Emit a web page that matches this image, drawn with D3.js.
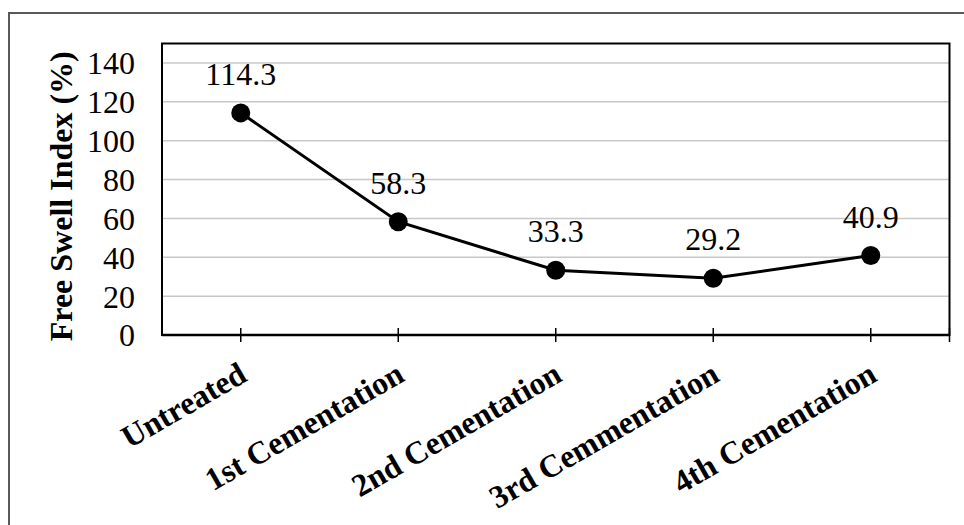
<!DOCTYPE html>
<html>
<head>
<meta charset="utf-8">
<script src="https://cdn.jsdelivr.net/npm/d3@7/dist/d3.min.js"></script>
<style>
  html, body { margin: 0; padding: 0; background: #fff; }
  svg { display: block; }
</style>
</head>
<body>
<svg id="chart" width="964" height="525"></svg>
<script>
// Free swell index after successive cementation treatments
const categories = ["Untreated", "1st Cementation", "2nd Cementation", "3rd Cemmentation", "4th Cementation"];
const swellValues = [114.3, 58.3, 33.3, 29.2, 40.9];
const yTicks = [0, 20, 40, 60, 80, 100, 120, 140];
const yTitle = "Free Swell Index (%)";

const FONT = "'Liberation Serif', 'Times New Roman', Times, serif";
const FS = "32px";
const svg = d3.select("#chart");
const plot = { left: 162, right: 949.5, top: 43.5, bottom: 335 };

// outer chart frame (runs past the right and bottom edges)
svg.append("rect")
  .attr("x", 9).attr("y", 13)
  .attr("width", 1000).attr("height", 600)
  .attr("fill", "none").attr("stroke", "#595959").attr("stroke-width", 2);

const x = d3.scaleBand().domain(categories).range([plot.left, plot.right]).padding(0);
const y = d3.scaleLinear().domain([0, 150]).range([plot.bottom, plot.top]);
const cx = d => x(d) + x.bandwidth() / 2;

// horizontal gridlines
svg.append("g").selectAll("line").data(yTicks.filter(v => v > 0)).join("line")
  .attr("x1", plot.left).attr("x2", plot.right)
  .attr("y1", d => y(d)).attr("y2", d => y(d))
  .attr("stroke", "#c8c8c8").attr("stroke-width", 1.5);

// plot-area border
svg.append("rect")
  .attr("x", plot.left).attr("y", plot.top)
  .attr("width", plot.right - plot.left).attr("height", plot.bottom - plot.top)
  .attr("fill", "none").attr("stroke", "#000").attr("stroke-width", 2);

// y axis labels
const yAxis = d3.axisLeft(y).tickValues(yTicks).tickSize(0).tickPadding(27);
const gy = svg.append("g").attr("transform", `translate(${plot.left},0)`).call(yAxis);
gy.select(".domain").remove();
gy.selectAll("text")
  .style("font-family", FONT)
  .style("font-size", FS).attr("fill", "#000").attr("dy", "0.34em");

// x axis: crossing tick marks at category centres and at the right edge
const gx = svg.append("g").attr("transform", `translate(0,${plot.bottom})`);
const tickXs = categories.map(cx).concat([plot.right]);
gx.selectAll("line.tick").data(tickXs).join("line")
  .attr("class", "tick")
  .attr("x1", d => d).attr("x2", d => d)
  .attr("y1", -7).attr("y2", 7)
  .attr("stroke", "#000").attr("stroke-width", 1.5);
gx.append("line")
  .attr("x1", plot.left).attr("x2", plot.right)
  .attr("stroke", "#000").attr("stroke-width", 2.5);

// rotated category labels
svg.append("g").selectAll("text").data(categories).join("text")
  .attr("transform", d => `translate(${cx(d) + 8},${plot.bottom + 45}) rotate(-30)`)
  .attr("text-anchor", "end")
  .style("font-family", FONT)
  .style("font-size", FS).style("font-weight", "bold")
  .text(d => d);

// y axis title
svg.append("text")
  .attr("transform", `translate(72,${(plot.top + plot.bottom) / 2 + 7}) rotate(-90)`)
  .attr("text-anchor", "middle")
  .style("font-family", FONT)
  .style("font-size", FS).style("font-weight", "bold")
  .text(yTitle);

// line series
const pts = categories.map((c, i) => ({ c, v: swellValues[i] }));
svg.append("path").datum(pts)
  .attr("d", d3.line().x(d => cx(d.c)).y(d => y(d.v)))
  .attr("fill", "none").attr("stroke", "#000").attr("stroke-width", 3);

svg.append("g").selectAll("circle").data(pts).join("circle")
  .attr("cx", d => cx(d.c)).attr("cy", d => y(d.v)).attr("r", 9.5)
  .attr("fill", "#000");

// value labels above the markers
svg.append("g").selectAll("text").data(pts).join("text")
  .attr("x", d => cx(d.c)).attr("y", d => y(d.v) - 28)
  .attr("text-anchor", "middle")
  .style("font-family", FONT)
  .style("font-size", FS)
  .text(d => d.v.toFixed(1));
</script>
</body>
</html>
